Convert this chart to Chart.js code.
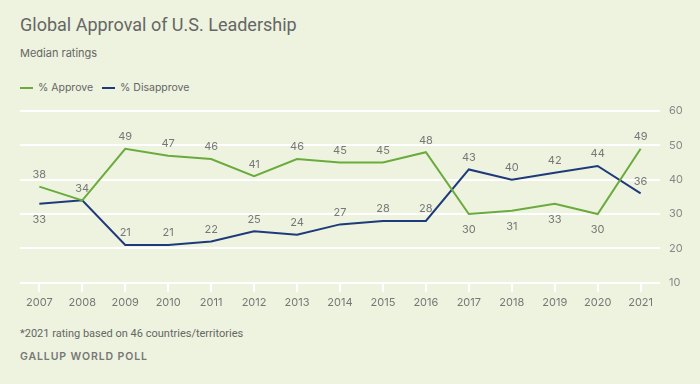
<!DOCTYPE html>
<html lang="en">
<head>
  <meta charset="UTF-8">
  <title>Global Approval of U.S. Leadership</title>
  <script src="https://cdn.jsdelivr.net/npm/chart.js"></script>
  <style>
    html, body { margin: 0; padding: 0; }
    body { width: 700px; height: 384px; background: #edf3de; position: relative; overflow: hidden; font-family: Inter, Roboto, sans-serif; color: #666; }
    .title { position: absolute; left: 20px; top: 14px; font-size: 18px; color: #666; white-space: nowrap; font-family: Roboto, sans-serif; }
    .sub { position: absolute; left: 20px; top: 46px; font-size: 11px; color: #666; }
    .legend { position: absolute; left: 20px; top: 81px; font-size: 10.5px; color: #666; display: flex; align-items: center; }
    .legend span.sw { display: inline-block; width: 13px; height: 2px; margin-right: 5px; }
    .legend span.item { display: inline-flex; align-items: center; margin-right: 9px; }
    .note { position: absolute; left: 20px; top: 327px; font-size: 11px; color: #666; font-family: Roboto, sans-serif; }
    .src { position: absolute; left: 20px; top: 350px; font-size: 10.5px; color: #777; font-weight: 600; letter-spacing: 0.9px; }
    #wrap { position: absolute; left: 0; top: 95px; width: 700px; height: 218px; }
  </style>
</head>
<body>
  <div class="title">Global Approval of U.S. Leadership</div>
  <div class="sub">Median ratings</div>
  <div class="legend">
    <span class="item"><span class="sw" style="background:#6aab3d"></span>% Approve</span>
    <span class="item"><span class="sw" style="background:#1e3a7b"></span>% Disapprove</span>
  </div>
  <div id="wrap"><canvas id="chart"></canvas></div>
  <div class="note">*2021 rating based on 46 countries/territories</div>
  <div class="src">GALLUP WORLD POLL</div>

  <script>
    // data
    const years = ['2007','2008','2009','2010','2011','2012','2013','2014','2015','2016','2017','2018','2019','2020','2021'];
    const approve = [38, 34, 49, 47, 46, 41, 46, 45, 45, 48, 30, 31, 33, 30, 49];
    const disapprove = [33, 34, 21, 21, 22, 25, 24, 27, 28, 28, 43, 40, 42, 44, 36];
    const yTicks = [10, 20, 30, 40, 50, 60];

    const GREEN = '#6aab3d';
    const NAVY = '#1e3a7b';

    // value labels: which ones sit under the line, which are hidden (overlapping)
    const labelPlugin = {
      id: 'valueLabels',
      afterDatasetsDraw(chart, args, opts) {
        const ctx = chart.ctx;
        ctx.save();
        ctx.font = '11px Inter, Roboto, sans-serif';
        ctx.fillStyle = '#777';
        ctx.textAlign = 'center';
        ctx.textBaseline = 'middle';
        chart.data.datasets.forEach((ds, di) => {
          const meta = chart.getDatasetMeta(di);
          const cfg = opts.sets[di];
          meta.data.forEach((pt, i) => {
            if (cfg.hide.includes(i)) return;
            const below = cfg.below.includes(i);
            ctx.fillText(ds.data[i].y, pt.x, below ? pt.y + 16 : pt.y - 12);
          });
        });
        ctx.restore();
      }
    };

    new Chart(document.getElementById('chart'), {
      type: 'line',
      data: {
        datasets: [
          { label: '% Approve', data: approve.map((v, i) => ({ x: i, y: v })), borderColor: GREEN, borderWidth: 2, pointRadius: 0, tension: 0 },
          { label: '% Disapprove', data: disapprove.map((v, i) => ({ x: i, y: v })), borderColor: NAVY, borderWidth: 2, pointRadius: 0, tension: 0 }
        ]
      },
      options: {
        responsive: true,
        maintainAspectRatio: false,
        animation: false,
        layout: { padding: { left: 20, right: 8, top: 16, bottom: 0 } },
        plugins: {
          legend: { display: false },
          tooltip: { enabled: false },
          valueLabels: {
            sets: [
              { below: approve.map((v, i) => v < disapprove[i] ? i : -1).filter(i => i >= 0), hide: [] },
              { below: [0], hide: [1] }
            ]
          }
        },
        scales: {
          x: {
            type: 'linear',
            min: -0.45,
            max: years.length - 0.55,
            border: { display: false },
            grid: { drawOnChartArea: false, drawTicks: true, tickLength: 9, color: '#ffffff', lineWidth: 2 },
            ticks: {
              stepSize: 1,
              includeBounds: false,
              autoSkip: false,
              maxRotation: 0,
              padding: 4,
              color: '#777',
              font: { size: 11, family: 'Inter, Roboto, sans-serif' },
              callback: v => years[v] ?? ''
            }
          },
          y: {
            position: 'right',
            min: yTicks[0],
            max: yTicks[yTicks.length - 1],
            border: { display: false },
            grid: { color: '#ffffff', lineWidth: 2, drawTicks: false },
            afterBuildTicks: axis => { axis.ticks = yTicks.map(v => ({ value: v })); },
            ticks: { padding: 9, color: '#888', font: { size: 11, family: 'Inter, Roboto, sans-serif' } }
          }
        }
      },
      plugins: [labelPlugin]
    });
  </script>
</body>
</html>
